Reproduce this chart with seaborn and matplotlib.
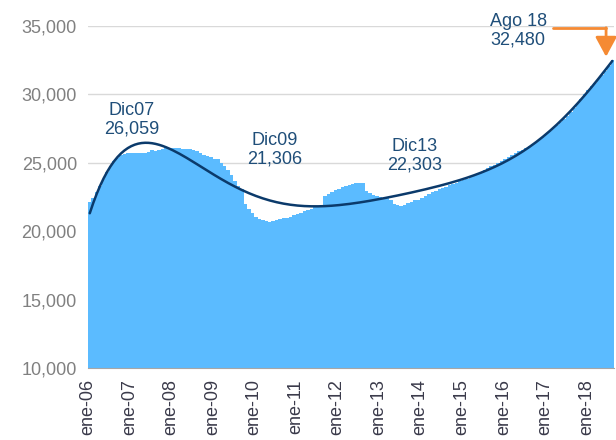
import numpy as np
import pandas as pd
import matplotlib
matplotlib.use("Agg")
import matplotlib.pyplot as plt
import seaborn as sns

# monthly series, ene-06 .. ago-18
v2006 = [22150, 22450, 22900, 23300, 23800, 24300, 24800, 25100, 25350, 25550, 25650, 25700]
v2007 = [25750, 25720, 25700, 25680, 25720, 25800, 25900, 25850, 25950, 26000, 26050, 26059]
v2008 = [26100, 26080, 26050, 26020, 26000, 25980, 25900, 25850, 25750, 25600, 25500, 25400]
v2009 = [25300, 25250, 25000, 24800, 24500, 24100, 23700, 23300, 23100, 22000, 21600, 21306]
v2010 = [21050, 20900, 20800, 20750, 20700, 20750, 20850, 20900, 20950, 21000, 21050, 21150]
v2011 = [21250, 21350, 21450, 21550, 21650, 21750, 21850, 21950, 22600, 22750, 22900, 23000]
v2012 = [23100, 23200, 23300, 23400, 23450, 23550, 23550, 23500, 22950, 22800, 22650, 22600]
v2013 = [22500, 22450, 22400, 22300, 22000, 21900, 21850, 21900, 22050, 22150, 22250, 22303]
v2014 = [22450, 22600, 22750, 22850, 22950, 23050, 23150, 23250, 23350, 23450, 23550, 23650]
v2015 = [23750, 23850, 23950, 24050, 24200, 24350, 24500, 24600, 24750, 24850, 25000, 25150]
v2016 = [25300, 25400, 25550, 25700, 25850, 25950, 26100, 26250, 26400, 26550, 26750, 26900]
v2017 = [27100, 27300, 27550, 27750, 27950, 28200, 28450, 28700, 29000, 29300, 29650, 30000]
v2018 = [30300, 30600, 30850, 31100, 31400, 31700, 32100, 32480]

year_labels = ["ene-06", "ene-07", "ene-08", "ene-09", "ene-10", "ene-11", "ene-12",
               "ene-13", "ene-14", "ene-15", "ene-16", "ene-17", "ene-18"]

notes = ["Dic07\n26,059", "Dic09\n21,306", "Dic13\n22,303", "Ago 18\n32,480"]

valores = (v2006 + v2007 + v2008 + v2009 + v2010 + v2011 + v2012 + v2013
           + v2014 + v2015 + v2016 + v2017 + v2018)
df = pd.DataFrame({"mes": np.arange(len(valores)), "valor": valores})

# tendencia polinomica (grado 6) como en excel
poly = np.polynomial.Polynomial.fit(df["mes"], df["valor"], 6)
df["tendencia"] = poly(df["mes"])

sns.set_style("white")
plt.rcParams["font.family"] = ["Liberation Sans", "DejaVu Sans"]

fig = plt.figure(figsize=(6.16, 4.4), dpi=100)
ax = fig.add_axes([0.1429, 0.1636, 0.8539, 0.7774])

sns.barplot(data=df, x="mes", y="valor", color="#5BBBFF", saturation=1,
            width=1.0, linewidth=0, ax=ax, zorder=2)
sns.lineplot(x=df["mes"], y=df["tendencia"], color="#0B3A6B", linewidth=1.8, ax=ax, zorder=3)

ax.set_ylim(10000, 35000)
ax.set_xlim(-0.5, len(valores) - 0.5)
ax.set_yticks(np.arange(10000, 35001, 5000))
ax.set_yticklabels([f"{t:,}" for t in range(10000, 35001, 5000)], fontsize=13, color="#808080")
ax.set_xticks(np.arange(len(year_labels)) * 12 - 0.5)
ax.set_xticklabels(year_labels, rotation=90, fontsize=13, color="#3A3A4A")
ax.tick_params(axis="x", length=5, color="#A6A6A6", width=1, pad=3)
ax.tick_params(axis="y", length=0, pad=8)
ax.set_xlabel("")
ax.set_ylabel("")

ax.grid(axis="y", color="#D9D9D9", linewidth=1, zorder=0)
ax.set_axisbelow(True)
for s in ["top", "right", "left"]:
    ax.spines[s].set_visible(False)
ax.spines["bottom"].set_color("#A6A6A6")

# anotaciones
txt_pos = [(12.2, 28130), (53.3, 25940), (94.0, 25500), (123.8, 34670)]
for txt, (tx, ty) in zip(notes, txt_pos):
    ax.text(tx, ty, txt, ha="center", va="center", fontsize=13, color="#1F4E79",
            linespacing=1.1, zorder=4)

# flecha naranja hacia el ultimo dato
ax.plot([133.9, 149.2], [34850, 34850], color="#F58A33", linewidth=2, zorder=4, clip_on=False)
ax.annotate("", xy=(149.2, 32750), xytext=(149.2, 34870),
            arrowprops=dict(arrowstyle="-|>,head_width=0.65,head_length=1.2",
                            color="#F58A33", linewidth=2, shrinkA=0, shrinkB=0),
            zorder=4)

fig.savefig("out.png", dpi=100)
